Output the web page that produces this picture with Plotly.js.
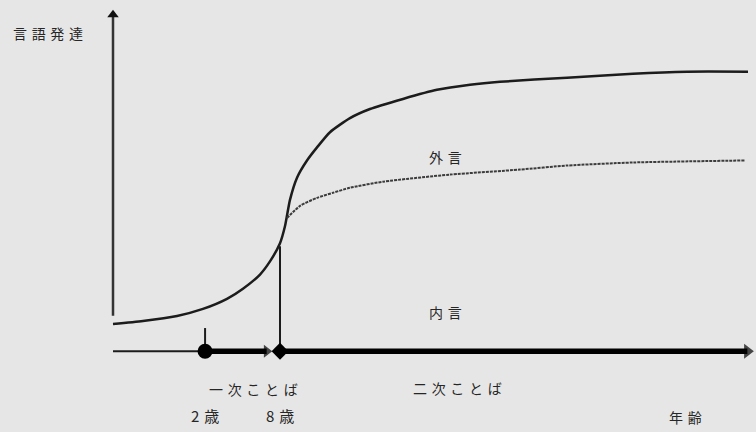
<!DOCTYPE html>
<html>
<head>
<meta charset="utf-8">
<script src="https://cdn.plot.ly/plotly-3.0.1.min.js"></script>
<style>html,body{margin:0;padding:0;background:#e6e6e6;}#chart{width:756px;height:432px;}</style>
</head>
<body>
<div id="chart"></div>
<script>
// Language development (arbitrary units) against age (arbitrary units)
const ageTotal = [0, 4.72, 10.08, 14.17, 17.95, 20.47, 23.15, 24.72, 26.30, 27.09, 27.87, 28.98, 30.55, 32.13, 34.17, 37.32, 40.47, 45.67, 51.02, 56.22, 60.94, 71.50, 81.89, 90.39, 100];
const devTotal = [7.99, 8.88, 10.36, 12.43, 15.38, 18.34, 22.49, 26.33, 31.66, 36.69, 44.38, 50.89, 55.92, 59.76, 64.20, 68.34, 71.01, 73.96, 76.63, 78.11, 78.99, 80.18, 81.36, 81.95, 81.95];
const ageOuter = [27.40, 29.45, 32.13, 34.65, 37.32, 42.52, 53.07, 64.09, 71.50, 81.89, 99.53];
const devOuter = [39.05, 42.60, 44.97, 46.45, 47.93, 49.70, 51.78, 53.25, 54.44, 55.33, 55.92];
const milestoneAges = [14.5, 26.3];
const milestoneLabels = ['2\u2004歳', '8\u2004歳'];
const stageLabels = ['一次ことば', '二次ことば'];
const stageCenters = [22.2, 54.3];
const regionLabels = ['外言', '内言'];
const regionPos = [[52.3, 56.8], [52.3, 11.5]];
const yTitle = '言語発達';
const xTitle = '年齢';
const xEnd = 99.9;
const yAxisBottom = 10.4;
const yAxisTop = 98.6;

const ink = '#1c1c1c';
const sp = s => s.split('').join('\u2004');

const traces = [
  // vertical axis
  {x: [0, 0], y: [yAxisBottom, yAxisTop], mode: 'lines', line: {color: '#333', width: 2.5}, hoverinfo: 'skip'},
  {x: [0], y: [yAxisTop], mode: 'markers', marker: {symbol: 'triangle-up', size: 10, color: '#111', line: {width: 0}}, hoverinfo: 'skip'},
  // total development curve
  {x: ageTotal, y: devTotal, mode: 'lines', line: {color: ink, width: 2.5, shape: 'spline', smoothing: 0.6}, hoverinfo: 'skip'},
  // outer speech branch
  {x: ageOuter, y: devOuter, mode: 'lines', line: {color: '#3c3c3c', width: 2, dash: '3px,1px', shape: 'spline', smoothing: 0.6}, hoverinfo: 'skip'},
  // milestone vertical lines
  {x: [milestoneAges[0], milestoneAges[0]], y: [0, 6.8], mode: 'lines', line: {color: ink, width: 2}, hoverinfo: 'skip'},
  {x: [milestoneAges[1], milestoneAges[1]], y: [0, 30.8], mode: 'lines', line: {color: ink, width: 2}, hoverinfo: 'skip'},
  // horizontal axis segments
  {x: [0, milestoneAges[0]], y: [0, 0], mode: 'lines', line: {color: ink, width: 2}, hoverinfo: 'skip'},
  {x: [milestoneAges[0], 24.2], y: [0, 0], mode: 'lines', line: {color: '#000', width: 5.5}, hoverinfo: 'skip'},
  {x: [milestoneAges[1], xEnd], y: [0, 0], mode: 'lines', line: {color: '#000', width: 5.5}, hoverinfo: 'skip'},
  {x: [24.2, xEnd], y: [0, 0], mode: 'markers', marker: {symbol: 'triangle-right', size: [11.2, 13], color: '#000', line: {width: 0}}, hoverinfo: 'skip'},
  {x: [milestoneAges[0]], y: [0], mode: 'markers', marker: {symbol: 'circle', size: 15, color: '#000', line: {width: 0}}, hoverinfo: 'skip'},
  {x: [milestoneAges[1]], y: [0], mode: 'markers', marker: {symbol: 'diamond', size: 13, color: '#000', line: {width: 0}}, hoverinfo: 'skip'}
];

const fnt = {family: '"Noto Sans CJK JP", sans-serif', size: 14, color: '#262626'};
const ann = (x, y, t, s) => ({x: x, y: y, xref: 'x', yref: 'y', text: t, showarrow: false, font: Object.assign({}, fnt, s ? {size: s} : {}), xanchor: 'center', yanchor: 'middle'});
const annotations = [
  ann(-10.2, 93.2, sp(yTitle)),
  ann(stageCenters[0], -11.2, sp(stageLabels[0])),
  ann(stageCenters[1], -10.9, sp(stageLabels[1])),
  ann(milestoneAges[0], -18.9, milestoneLabels[0], 15),
  ann(milestoneAges[1], -18.9, milestoneLabels[1], 15),
  ann(90.1, -19.2, sp(xTitle)),
  ann(regionPos[0][0], regionPos[0][1], sp(regionLabels[0])),
  ann(regionPos[1][0], regionPos[1][1], sp(regionLabels[1]))
];

const layout = {
  width: 756, height: 432,
  margin: {l: 0, r: 0, t: 0, b: 0},
  paper_bgcolor: '#e6e6e6', plot_bgcolor: '#e6e6e6',
  showlegend: false,
  xaxis: {range: [-17.795, 101.26], visible: false, fixedrange: true},
  yaxis: {range: [-23.669, 102.959], visible: false, fixedrange: true},
  annotations: annotations
};
traces.forEach(t => t.cliponaxis = false);
Plotly.newPlot('chart', traces, layout, {staticPlot: true});
</script>
</body>
</html>
